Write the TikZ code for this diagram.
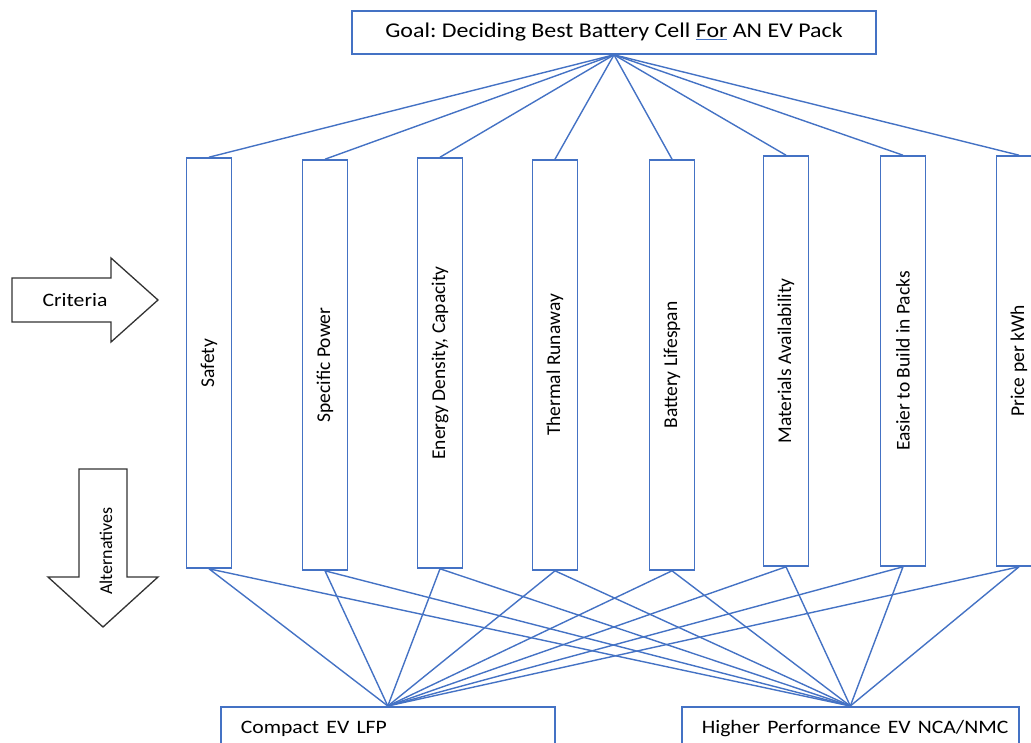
\documentclass[tikz,border=0pt]{standalone}
\usepackage{fontspec}
\setmainfont{Carlito}
\usepackage{xcolor}
\usepackage{tikz}
\usetikzlibrary{calc}
\definecolor{wordblue}{RGB}{68,114,196}
\newcommand{\wide}[1]{\scalebox{1.14}[1]{#1}}
\newcommand{\up}[1]{\rotatebox{90}{#1}}
\newcommand{\squig}[2]{\makebox[0pt][l]{\color{wordblue}\rule[-2.5pt]{#1}{1pt}}#2}
\frenchspacing
\tikzset{
  crit/.style={draw=wordblue, line width=1.6pt, minimum width=45pt, minimum height=410pt,
    inner sep=0pt, font=\fontsize{19.5}{22}\selectfont},
  link/.style={draw=wordblue, line width=1.4pt, line join=round},
  altbox/.style={draw=wordblue, line width=1.6pt, anchor=north west, minimum height=44pt,
    inner xsep=20pt, align=left, font=\fontsize{19}{22}\selectfont},
  bigarrow/.style={draw=black!80, line width=1.3pt, fill=white, line join=miter}
}

\begin{document}
\begin{tikzpicture} [x=1pt, y=-1pt]

\useasboundingbox (0,0) rectangle (1031,742);
\clip (0,0) rectangle (1031,742);

% goal
\node [draw=wordblue, line width=1.6pt, minimum width=524pt, minimum height=43pt,
  font=\fontsize{21}{24}\selectfont] (goal) at (614,32.5)
  {\wide{Goal: Deciding Best Battery Cell \squig{27pt}{For} AN EV Pack}};

% criteria
\node [crit] (safety)   at (209,363)  {\up{Safety}};
\node [crit] (power)    at (325,365)  {\up{Specific Power}};
\node [crit] (energy)   at (440,363)  {\up{Energy Density, Capacity}};
\node [crit] (thermal)  at (555,365)  {\up{Thermal Runaway}};
\node [crit] (life)     at (672,365)  {\up{Battery Lifespan}};
\node [crit] (material) at (786,361)  {\up{Materials Availability}};
\node [crit] (build)    at (903,361)  {\up{Easier to Build in Packs}};
\node [crit] (price)    at (1019,361) {\up{Price per kWh}};

% alternatives
\node [altbox, minimum width=334pt, text width=294pt] (lfp) at (220,706) {\wide{Compact EV LFP}};
\node [altbox, minimum width=337pt, text width=297pt] (nmc) at (681,706) {\wide{Higher Performance EV NCA/NMC}};

% big arrows
\draw [bigarrow] (12,278) -- (111,278) -- (111,258) -- (158,300) -- (111,342) -- (111,322) -- (12,322) -- cycle;
\node [font=\fontsize{19}{22}\selectfont] (crlabel) at (75,300) {\wide{Criteria}};

\draw [bigarrow] (79,469) -- (127,469) -- (127,577) -- (158,577) -- (103,627) -- (48,577) -- (79,577) -- cycle;
\node [font=\fontsize{18}{22}\selectfont] (altlabel) at (106,551) {\up{Alternatives}};

% goal to criteria
\draw [link] (goal.south)--(safety.north);
\draw [link] (goal.south)--(power.north);
\draw [link] (goal.south)--(energy.north);
\draw [link] (goal.south)--(thermal.north);
\draw [link] (goal.south)--(life.north);
\draw [link] (goal.south)--(material.north);
\draw [link] (goal.south)--(build.north);
\draw [link] (goal.south)--(price.north);

% criteria to alternatives
\draw [link] (lfp.north)--(safety.south)--(nmc.north);
\draw [link] (lfp.north)--(power.south)--(nmc.north);
\draw [link] (lfp.north)--(energy.south)--(nmc.north);
\draw [link] (lfp.north)--(thermal.south)--(nmc.north);
\draw [link] (lfp.north)--(life.south)--(nmc.north);
\draw [link] (lfp.north)--(material.south)--(nmc.north);
\draw [link] (lfp.north)--(build.south)--(nmc.north);
\draw [link] (lfp.north)--(price.south)--(nmc.north);

\end{tikzpicture}
\end{document}
